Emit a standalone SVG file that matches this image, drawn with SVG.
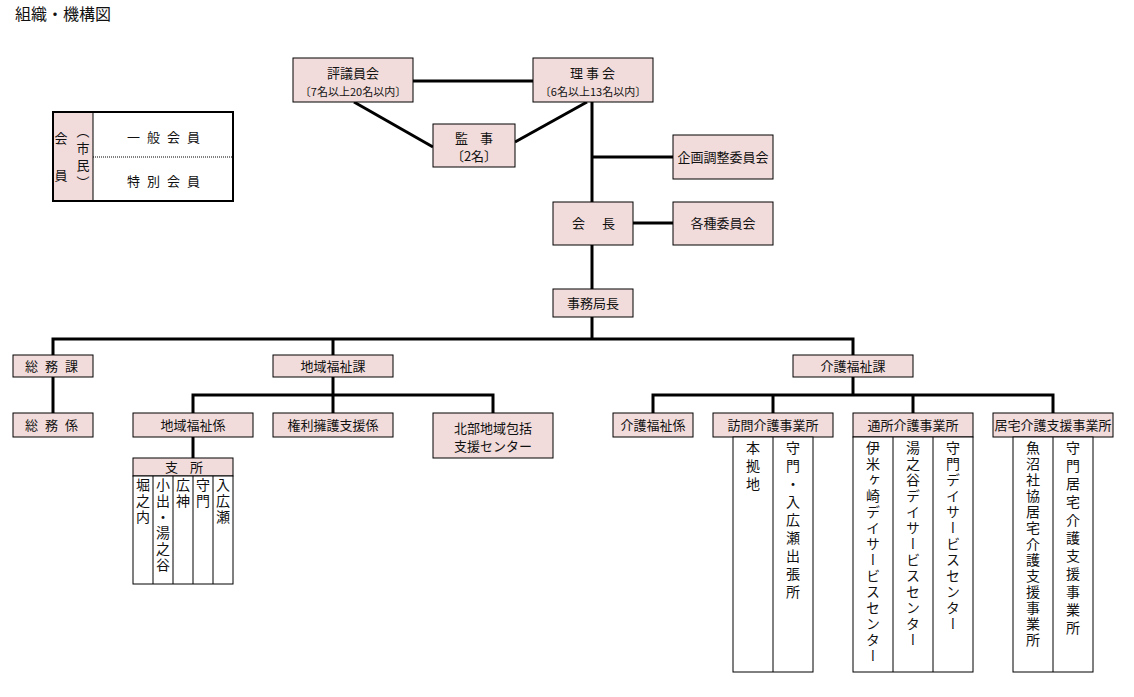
<svg xmlns="http://www.w3.org/2000/svg" width="1134" height="697" viewBox="0 0 1134 697">
<style>
.bg{fill:#fff}
.box{fill:#f2dcdb;stroke:#000;stroke-width:1}
.wbox{fill:#fff;stroke:#000;stroke-width:1}
.t{font-family:"Noto Sans CJK JP","Noto Sans CJK SC",sans-serif;font-size:13px;fill:#111}
.s{font-size:11px}
.c{text-anchor:middle}
.v{writing-mode:vertical-rl;font-size:14px}
.v16{letter-spacing:2px}
.v18{letter-spacing:4px}
.ln{stroke:#000;stroke-width:3;fill:none;stroke-linejoin:miter}
.thin{stroke:#000;stroke-width:1;fill:none}
</style>
<rect class="bg" x="0" y="0" width="1134" height="697"/>
<text class="t" x="15" y="20" style="font-size:16px">組織・機構図</text>

<g id="connectors">
<path class="ln" d="M413 81H533"/>
<path class="ln" d="M354 102L433 147"/>
<path class="ln" d="M587 102L515 142"/>
<path class="ln" d="M592 102V202"/>
<path class="ln" d="M592 157H673"/>
<path class="ln" d="M633 223H673"/>
<path class="ln" d="M592 245V289"/>
<path class="ln" d="M592 317V339"/>
<path class="ln" d="M53 355V339H853V355"/>
<path class="ln" d="M333 339V355"/>
<path class="ln" d="M53 377V413"/>
<path class="ln" d="M333 377V413"/>
<path class="ln" d="M193 413V395H493V413"/>
<path class="ln" d="M193 437V458"/>
<path class="ln" d="M853 377V395"/>
<path class="ln" d="M653 413V395H1053V413"/>
<path class="ln" d="M773 395V413"/>
<path class="ln" d="M913 395V413"/>
</g>

<g id="members">
<rect x="53" y="112" width="180" height="89" fill="#fff" stroke="none"/>
<rect x="53" y="112" width="40" height="89" fill="#f2dcdb"/>
<line x1="93" y1="112" x2="93" y2="201" stroke="#000" stroke-width="1"/>
<line x1="93" y1="157" x2="233" y2="157" stroke="#000" stroke-width="1" stroke-dasharray="1 1"/>
<rect x="53" y="112" width="180" height="89" fill="none" stroke="#000" stroke-width="2"/>
<text class="t" x="61" y="143" text-anchor="middle">会</text>
<text class="t" x="61" y="180" text-anchor="middle">員</text>
<text class="t v" x="83" y="125" style="font-size:13px;letter-spacing:4px">（市民）</text>
<text class="t" x="127 147 167 187" y="142">一般会員</text>
<text class="t" x="127 147 167 187" y="186">特別会員</text>
</g>

<g id="hyogiinkai">
<rect class="box" x="293" y="58" width="120" height="44"/>
<text class="t c" x="353" y="78">評議員会</text>
<text class="t s c" x="353" y="96">〔7名以上20名以内〕</text>
</g>
<g id="rijikai">
<rect class="box" x="533" y="58" width="120" height="44"/>
<text class="t" x="570 586 602" y="78">理事会</text>
<text class="t s c" x="593" y="96">〔6名以上13名以内〕</text>
</g>
<g id="kanji">
<rect class="box" x="433" y="124" width="82" height="43"/>
<text class="t" x="455 480" y="143">監事</text>
<text class="t c" x="474" y="161">〔2名〕</text>
</g>
<g id="kikaku">
<rect class="box" x="673" y="135" width="100" height="44"/>
<text class="t c" x="723" y="162">企画調整委員会</text>
</g>
<g id="kaicho">
<rect class="box" x="553" y="202" width="80" height="43"/>
<text class="t" x="572 602" y="228">会長</text>
</g>
<g id="kakushu">
<rect class="box" x="673" y="202" width="100" height="43"/>
<text class="t c" x="723" y="228">各種委員会</text>
</g>
<g id="jimukyokucho">
<rect class="box" x="553" y="289" width="80" height="28"/>
<text class="t c" x="593" y="308">事務局長</text>
</g>

<g id="somuka">
<rect class="box" x="13" y="355" width="80" height="22"/>
<text class="t" x="25 45 65" y="371">総務課</text>
</g>
<g id="somukakari">
<rect class="box" x="13" y="413" width="80" height="24"/>
<text class="t" x="25 45 65" y="430">総務係</text>
</g>
<g id="chiikifukushika">
<rect class="box" x="273" y="355" width="120" height="22"/>
<text class="t c" x="333" y="371">地域福祉課</text>
</g>
<g id="chiikifukushikakari">
<rect class="box" x="133" y="413" width="120" height="24"/>
<text class="t c" x="193" y="430">地域福祉係</text>
</g>
<g id="kenri">
<rect class="box" x="273" y="413" width="120" height="24"/>
<text class="t c" x="333" y="430">権利擁護支援係</text>
</g>
<g id="hokubu">
<rect class="box" x="433" y="413" width="120" height="45"/>
<text class="t c" x="493" y="433">北部地域包括</text>
<text class="t c" x="493" y="451">支援センター</text>
</g>
<g id="shisho">
<rect class="box" x="133" y="458" width="100" height="18"/>
<text class="t" x="165 190" y="472">支所</text>
<rect class="wbox" x="133" y="476" width="100" height="108"/>
<path class="thin" d="M153 476V584M173 476V584M193 476V584M213 476V584"/>
<text class="t v v16" x="143" y="478">堀之内</text>
<text class="t v v16" x="163" y="478">小出・湯之谷</text>
<text class="t v v16" x="183" y="478">広神</text>
<text class="t v v16" x="203" y="478">守門</text>
<text class="t v v16" x="223" y="478">入広瀬</text>
</g>

<g id="kaigofukushika">
<rect class="box" x="793" y="355" width="120" height="22"/>
<text class="t c" x="853" y="371">介護福祉課</text>
</g>
<g id="kaigofukushikakari">
<rect class="box" x="613" y="413" width="80" height="24"/>
<text class="t c" x="653" y="430">介護福祉係</text>
</g>
<g id="homon">
<rect class="box" x="713" y="413" width="120" height="24"/>
<text class="t c" x="773" y="430">訪問介護事業所</text>
<rect class="wbox" x="733" y="437" width="80" height="235"/>
<path class="thin" d="M773 437V672"/>
<text class="t v v18" x="753" y="441">本拠地</text>
<text class="t v v18" x="793" y="441">守門・入広瀬出張所</text>
</g>
<g id="tsusho">
<rect class="box" x="853" y="413" width="120" height="24"/>
<text class="t c" x="913" y="430">通所介護事業所</text>
<rect class="wbox" x="853" y="437" width="120" height="235"/>
<path class="thin" d="M893 437V672M933 437V672"/>
<text class="t v v16" x="873" y="441">伊米ヶ崎デイサービスセンター</text>
<text class="t v v16" x="913" y="441">湯之谷デイサービスセンター</text>
<text class="t v v16" x="953" y="441">守門デイサービスセンター</text>
</g>
<g id="kyotaku">
<rect class="box" x="993" y="413" width="120" height="24"/>
<text class="t c" x="1053" y="430">居宅介護支援事業所</text>
<rect class="wbox" x="1013" y="437" width="80" height="235"/>
<path class="thin" d="M1053 437V672"/>
<text class="t v v16" x="1033" y="441">魚沼社協居宅介護支援事業所</text>
<text class="t v v18" x="1073" y="441">守門居宅介護支援事業所</text>
</g>
</svg>
